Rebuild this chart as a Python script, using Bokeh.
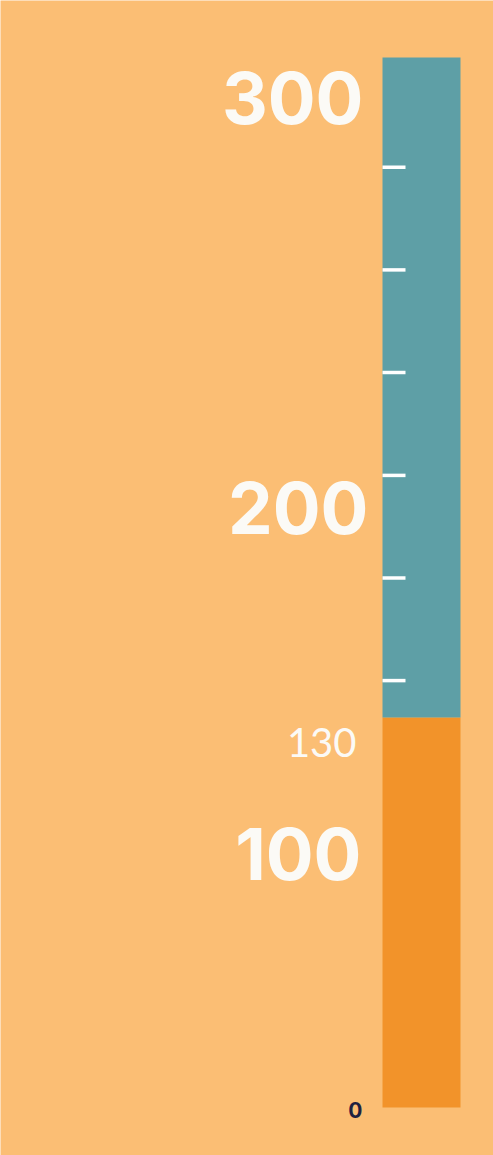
from bokeh.plotting import figure
from bokeh.models import Range1d, ColumnDataSource
from bokeh.core.properties import value
from bokeh.embed import file_html
from bokeh.resources import INLINE

# ---- data ----
seg_bottom = [0, 130]
seg_top = [130, 350]
seg_colors = ["#F2932A", "#5E9FA6"]
big_labels = ["300", "200", "100"]
small_label = "130"
zero_label = "0"
tick_values = [142.3, 176.5, 210.7, 245.0, 279.2, 313.4]

# ---- layout ----
W, H = 493, 1155
PX = 3.0  # pixels per unit
ymin = -48.0 / PX
ymax = ymin + H / PX

p = figure(width=W, height=H, output_backend="svg", toolbar_location=None,
           x_range=Range1d(0, W), y_range=Range1d(ymin, ymax),
           min_border=0, min_border_left=0, min_border_right=0,
           min_border_top=0, min_border_bottom=0)
p.axis.visible = False
p.grid.visible = False
p.outline_line_color = None
p.background_fill_color = "#FBBE74"
p.border_fill_color = "#FBBE74"

bar_left, bar_right = 382, 460
src = ColumnDataSource(dict(bottom=seg_bottom, top=seg_top, color=seg_colors))
p.quad(left=bar_left, right=bar_right, bottom="bottom", top="top",
       fill_color="color", line_color=None, source=src)

# white tick marks on the teal part
p.segment(x0=[bar_left] * len(tick_values), x1=[bar_left + 23] * len(tick_values),
          y0=tick_values, y1=tick_values, line_color="white", line_width=3.5)

# big labels (anchor positions)
big_x = [363, 368, 361]
big_y = [336.6, 200.0, 84.4]
p.text(x=big_x, y=big_y, text=big_labels, text_color="#FBFAF6",
       text_font=value("Inter"), text_font_style="bold",
       text_font_size="71px", text_align="right", text_baseline="alphabetic")

p.text(x=[356], y=[121.6], text=[small_label], text_color="#FBFAF6",
       text_font=value("Lato"), text_font_style="normal",
       text_font_size="40px", text_align="right", text_baseline="alphabetic")

p.text(x=[362], y=[-0.9], text=[zero_label], text_color="#1F2140",
       text_font=value("Inter"), text_font_style="bold",
       text_font_size="21px", text_align="right", text_baseline="alphabetic")

open("out.html", "w").write(file_html(p, INLINE))
